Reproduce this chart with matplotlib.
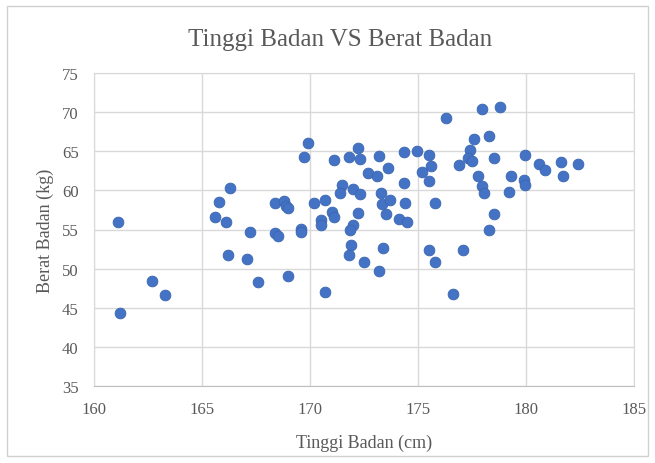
import matplotlib
matplotlib.use("Agg")
import matplotlib.pyplot as plt
from matplotlib.patches import Rectangle

# Tinggi badan (cm) dan berat badan (kg)
tinggi = [161.1, 161.2, 162.7, 163.3, 165.6, 165.8, 166.1, 166.3, 166.2, 167.1,
          167.2, 167.6, 168.4, 168.8, 168.9, 169.0, 168.4, 168.5, 169.0, 169.6,
          169.6, 169.7, 169.9, 170.2, 170.7, 171.0, 171.1, 170.5, 170.5, 170.7,
          171.1, 171.8, 172.2, 172.3, 171.5, 171.4, 172.0, 172.3, 172.2, 172.0,
          171.85, 171.9, 171.8, 172.5, 172.7, 173.1, 173.2, 173.6, 173.3, 173.35,
          173.7, 173.5, 174.1, 174.5, 173.4, 173.2, 174.4, 174.35, 174.35, 174.95,
          175.5, 175.6, 175.2, 175.5, 175.8, 175.5, 175.8, 176.3, 176.6, 176.9,
          177.1, 177.4, 177.3, 177.5, 177.6, 178.3, 177.95, 178.8, 178.5, 177.8,
          177.95, 178.05, 178.5, 178.3, 179.3, 179.2, 179.9, 179.95, 179.95, 180.6,
          180.9, 181.6, 181.7, 182.4]
berat = [55.9, 44.3, 48.4, 46.6, 56.6, 58.5, 55.9, 60.3, 51.7, 51.2,
         54.7, 48.3, 58.4, 58.7, 58.0, 57.7, 54.6, 54.2, 49.1, 55.1,
         54.7, 64.3, 66.1, 58.4, 58.8, 57.2, 56.6, 56.2, 55.6, 47.0,
         63.9, 64.3, 65.4, 64.0, 60.7, 59.7, 60.2, 59.5, 57.1, 55.6,
         54.9, 53.0, 51.8, 50.9, 62.2, 61.9, 64.4, 62.9, 59.7, 58.3,
         58.8, 57.0, 56.3, 55.9, 52.6, 49.7, 58.4, 61.0, 64.9, 65.0,
         64.5, 63.1, 62.4, 61.2, 58.4, 52.4, 50.9, 69.3, 46.8, 63.2,
         52.4, 65.2, 64.1, 63.8, 66.6, 67.0, 70.4, 70.7, 64.1, 61.85,
         60.6, 59.7, 57.0, 54.9, 61.8, 59.8, 61.3, 60.7, 64.5, 63.4,
         62.6, 63.6, 61.8, 63.4]

xticks = [160, 165, 170, 175, 180, 185]
yticks = [35, 40, 45, 50, 55, 60, 65, 70, 75]

text_color = "#595959"
grid_color = "#d9d9d9"
plt.rcParams["font.family"] = ["Liberation Serif", "DejaVu Serif"]

fig = plt.figure(figsize=(6.55, 4.64), dpi=100)
fig.patches.append(Rectangle((7 / 655, 7 / 464), 641 / 655, 450 / 464,
                             transform=fig.transFigure, fill=False,
                             edgecolor="#d0d0d0", linewidth=1))

ax = fig.add_axes([94 / 655, 77 / 464, 540 / 655, 313 / 464])
ax.scatter(tinggi, berat, s=60, color="#4472c4", edgecolors="#3b66b0",
           linewidths=0.6, zorder=3)

ax.set_xlim(160, 185)
ax.set_ylim(35, 75)
ax.set_xticks(xticks)
ax.set_yticks(yticks)
ax.grid(True, color=grid_color, linewidth=1)
ax.set_axisbelow(True)
for sp in ax.spines.values():
    sp.set_color(grid_color)
ax.spines["bottom"].set_color("#bfbfbf")
ax.tick_params(length=0, labelsize=12, colors=text_color, pad=11)

ax.set_xlabel("Tinggi Badan (cm)", fontsize=13, color=text_color, labelpad=12)
ax.set_ylabel("Berat Badan (kg)", fontsize=13, color=text_color, labelpad=6)
fig.text(340 / 655, 1 - 40 / 464, "Tinggi Badan VS Berat Badan",
         ha="center", va="center", fontsize=18, color=text_color)

fig.savefig("out.png", dpi=100)
